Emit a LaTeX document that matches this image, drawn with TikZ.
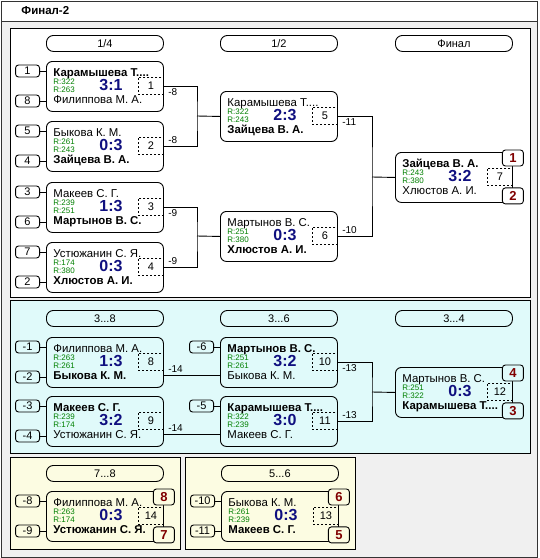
\documentclass[tikz,border=0pt]{standalone}
\usepackage{fontspec}
\setmainfont{Liberation Sans}

\definecolor{rgreen}{RGB}{0,128,0}
\definecolor{scoreblue}{RGB}{16,16,128}
\definecolor{rankred}{RGB}{128,0,0}
\definecolor{cyanbg}{RGB}{224,250,250}
\definecolor{yellowbg}{RGB}{252,252,226}
\definecolor{framebg}{RGB}{240,240,240}

\tikzset{
  matchbox/.style={draw, rounded corners=6pt, minimum width=117pt, minimum height=50pt, anchor=north west, inner sep=0pt},
  pname/.style={anchor=base west, inner sep=0pt, font=\fontsize{11.4}{13}\selectfont},
  rating/.style={anchor=west, inner sep=0pt, text=rgreen, font=\fontsize{8}{9}\selectfont},
  score/.style={inner sep=0pt, text=scoreblue, font=\bfseries\fontsize{16}{18}\selectfont},
  idbox/.style={draw, dash pattern=on 2pt off 2pt, anchor=north east, minimum width=25pt, minimum height=17pt, inner sep=0pt, font=\fontsize{11}{13}\selectfont},
  seedbox/.style={draw, rounded corners=3pt, minimum width=24pt, minimum height=12pt, inner sep=0pt, anchor=east, font=\fontsize{11}{12}\selectfont},
  rankbox/.style={draw, rounded corners=3pt, minimum width=21pt, minimum height=16pt, inner sep=0pt, text=rankred, font=\bfseries\fontsize{13}{14}\selectfont},
  pill/.style={draw, rounded corners=7pt, minimum width=117pt, minimum height=16pt, inner sep=0pt, anchor=north west, font=\fontsize{11}{12}\selectfont},
  lbl/.style={inner sep=0pt, font=\fontsize{10}{11}\selectfont}
}

% one match: name, x, y, upper, lower, rating 1, rating 2, score, number
\newcommand{\duel}[9]{%
  \node[matchbox] (#1) at (#2,#3) {};
  \node[pname] (#1t) at ([shift={(7,15)}]#1.north west) {#4};
  \node[pname] (#1b) at ([shift={(7,42.5)}]#1.north west) {#5};
  \node[rating] (#1r) at ([shift={(7,20.5)}]#1.north west) {R:#6};
  \node[rating] (#1q) at ([shift={(7,29)}]#1.north west) {R:#7};
  \node[score] (#1s) at ([shift={(65,24)}]#1.north west) {#8};
  \node[idbox] (#1i) at ([shift={(0,16)}]#1.north east) {#9};
}

\begin{document}
\begin{tikzpicture}[x=1pt, y=-1pt, line width=0.9pt]
    \useasboundingbox (0,0) rectangle (540,558);
    % frame and panels
    \fill[white] (0,0) rectangle (540,558);
    \filldraw[fill=framebg, draw=black!80] (1,1) rectangle (537,557);
    \filldraw[fill=white, draw=black!80] (1,1) rectangle (537,21);
    \node[anchor=west, inner sep=0pt, font=\bfseries\fontsize{11.5}{13}\selectfont] (title) at (21,11) {Финал-2};
    \filldraw[fill=white] (10,28) rectangle (530,297);
    \filldraw[fill=cyanbg] (10,300) rectangle (530,453);
    \filldraw[fill=yellowbg] (10,457) rectangle (180,549);
    \filldraw[fill=yellowbg] (185,457) rectangle (355,549);

    % main bracket
    \node[pill] (h14) at (46,35) {1/4};
    \node[pill] (h12) at (220,35) {1/2};
    \node[pill] (hfin) at (395,35) {Финал};
    \duel{m1}{46}{61}{\textbf{Карамышева Т....}}{Филиппова М. А.}{322}{263}{3:1}{1}
    \duel{m2}{46}{121}{Быкова К. М.}{\textbf{Зайцева В. А.}}{261}{243}{0:3}{2}
    \duel{m3}{46}{182}{Макеев С. Г.}{\textbf{Мартынов В. С.}}{239}{251}{1:3}{3}
    \duel{m4}{46}{242}{Устюжанин С. Я.}{\textbf{Хлюстов А. И.}}{174}{380}{0:3}{4}
    \duel{m5}{220}{91}{Карамышева Т....}{\textbf{Зайцева В. А.}}{322}{243}{2:3}{5}
    \duel{m6}{220}{211}{Мартынов В. С.}{\textbf{Хлюстов А. И.}}{251}{380}{0:3}{6}
    \duel{m7}{395}{152}{\textbf{Зайцева В. А.}}{Хлюстов А. И.}{243}{380}{3:2}{7}
    \node[seedbox] (m1u) at ([shift={(-6,10)}]m1.north west) {1};
    \node[seedbox] (m1d) at ([shift={(-6,40)}]m1.north west) {8};
    \node[seedbox] (m2u) at ([shift={(-6,10)}]m2.north west) {5};
    \node[seedbox] (m2d) at ([shift={(-6,40)}]m2.north west) {4};
    \node[seedbox] (m3u) at ([shift={(-6,10)}]m3.north west) {3};
    \node[seedbox] (m3d) at ([shift={(-6,40)}]m3.north west) {6};
    \node[seedbox] (m4u) at ([shift={(-6,10)}]m4.north west) {7};
    \node[seedbox] (m4d) at ([shift={(-6,40)}]m4.north west) {2};
    \foreach \s in {m1,m2,m3,m4} {
        \draw (\s u) -- (\s u -| \s.west);
        \draw (\s d) -- (\s d -| \s.west);
    }
    \node[rankbox, fill=white] (m7w) at ([shift={(0,6)}]m7.north east) {1};
    \node[rankbox, fill=white] (m7l) at ([shift={(0,-7)}]m7.south east) {2};
    \coordinate (j1) at (197,116);
    \coordinate (j2) at (197,236);
    \coordinate (j3) at (372,177);
    \draw (m1.east) -| (j1) |- (m2.east);
    \draw (m3.east) -| (j2) |- (m4.east);
    \draw (m5.east) -| (j3) |- (m6.east);
    \draw (j1) -- (m5.west);
    \draw (j2) -- (m6.west);
    \draw (j3) -- (m7.west);
    \node[lbl, anchor=north west] (o1) at ([shift={(4,2)}]m1.east) {-8};
    \node[lbl, anchor=south west] (o2) at ([shift={(4,-2)}]m2.east) {-8};
    \node[lbl, anchor=north west] (o3) at ([shift={(4,2)}]m3.east) {-9};
    \node[lbl, anchor=south west] (o4) at ([shift={(4,-2)}]m4.east) {-9};
    \node[lbl, anchor=north west] (o5) at ([shift={(4,2)}]m5.east) {-11};
    \node[lbl, anchor=south west] (o6) at ([shift={(4,-2)}]m6.east) {-10};

    % places 3 to 8
    \node[pill] (h38) at (46,310) {3...8};
    \node[pill] (h36) at (220,310) {3...6};
    \node[pill] (h34) at (395,310) {3...4};
    \duel{m8}{46}{337}{Филиппова М. А.}{\textbf{Быкова К. М.}}{263}{261}{1:3}{8}
    \duel{m9}{46}{396}{\textbf{Макеев С. Г.}}{Устюжанин С. Я.}{239}{174}{3:2}{9}
    \duel{m10}{220}{337}{\textbf{Мартынов В. С.}}{Быкова К. М.}{251}{261}{3:2}{10}
    \duel{m11}{220}{396}{\textbf{Карамышева Т....}}{Макеев С. Г.}{322}{239}{3:0}{11}
    \duel{m12}{395}{367}{Мартынов В. С.}{\textbf{Карамышева Т....}}{251}{322}{0:3}{12}
    \node[seedbox] (m8u) at ([shift={(-6,10)}]m8.north west) {-1};
    \node[seedbox] (m8d) at ([shift={(-6,40)}]m8.north west) {-2};
    \node[seedbox] (m9u) at ([shift={(-6,10)}]m9.north west) {-3};
    \node[seedbox] (m9d) at ([shift={(-6,40)}]m9.north west) {-4};
    \node[seedbox] (m10u) at ([shift={(-6,10)}]m10.north west) {-6};
    \node[seedbox] (m11u) at ([shift={(-6,10)}]m11.north west) {-5};
    \foreach \s in {m8,m9} {
        \draw (\s u) -- (\s u -| \s.west);
        \draw (\s d) -- (\s d -| \s.west);
    }
    \draw (m10u) -- (m10u -| m10.west);
    \draw (m11u) -- (m11u -| m11.west);
    \node[rankbox, fill=cyanbg] (m12w) at ([shift={(0,6)}]m12.north east) {4};
    \node[rankbox, fill=cyanbg] (m12l) at ([shift={(0,-7)}]m12.south east) {3};
    \coordinate (m8o) at ([shift={(0,38)}]m8.north east);
    \coordinate (m9o) at ([shift={(0,38)}]m9.north east);
    \draw (m8o) -- (m8o -| m10.west);
    \draw (m9o) -- (m9o -| m11.west);
    \coordinate (j4) at (372,392);
    \draw (m10.east) -| (j4) |- (m11.east);
    \draw (j4) -- (m12.west);
    \node[lbl, anchor=south west] (o8) at ([shift={(4,-2)}]m8o) {-14};
    \node[lbl, anchor=south west] (o9) at ([shift={(4,-2)}]m9o) {-14};
    \node[lbl, anchor=north west] (o10) at ([shift={(4,2)}]m10.east) {-13};
    \node[lbl, anchor=south west] (o11) at ([shift={(4,-2)}]m11.east) {-13};

    % places 7-8 and 5-6
    \node[pill] (h78) at (46,465) {7...8};
    \node[pill] (h56) at (221,465) {5...6};
    \duel{m14}{46}{491}{Филиппова М. А.}{\textbf{Устюжанин С. Я.}}{263}{174}{0:3}{14}
    \duel{m13}{221}{491}{Быкова К. М.}{\textbf{Макеев С. Г.}}{261}{239}{0:3}{13}
    \node[seedbox] (m14u) at ([shift={(-6,10)}]m14.north west) {-8};
    \node[seedbox] (m14d) at ([shift={(-6,40)}]m14.north west) {-9};
    \node[seedbox] (m13u) at ([shift={(-6,10)}]m13.north west) {-10};
    \node[seedbox] (m13d) at ([shift={(-6,40)}]m13.north west) {-11};
    \foreach \s in {m13,m14} {
        \draw (\s u) -- (\s u -| \s.west);
        \draw (\s d) -- (\s d -| \s.west);
    }
    \node[rankbox, fill=yellowbg] (m14w) at ([shift={(0,6)}]m14.north east) {8};
    \node[rankbox, fill=yellowbg] (m14l) at ([shift={(0,-7)}]m14.south east) {7};
    \node[rankbox, fill=yellowbg] (m13w) at ([shift={(0,6)}]m13.north east) {6};
    \node[rankbox, fill=yellowbg] (m13l) at ([shift={(0,-7)}]m13.south east) {5};
\end{tikzpicture}
\end{document}
